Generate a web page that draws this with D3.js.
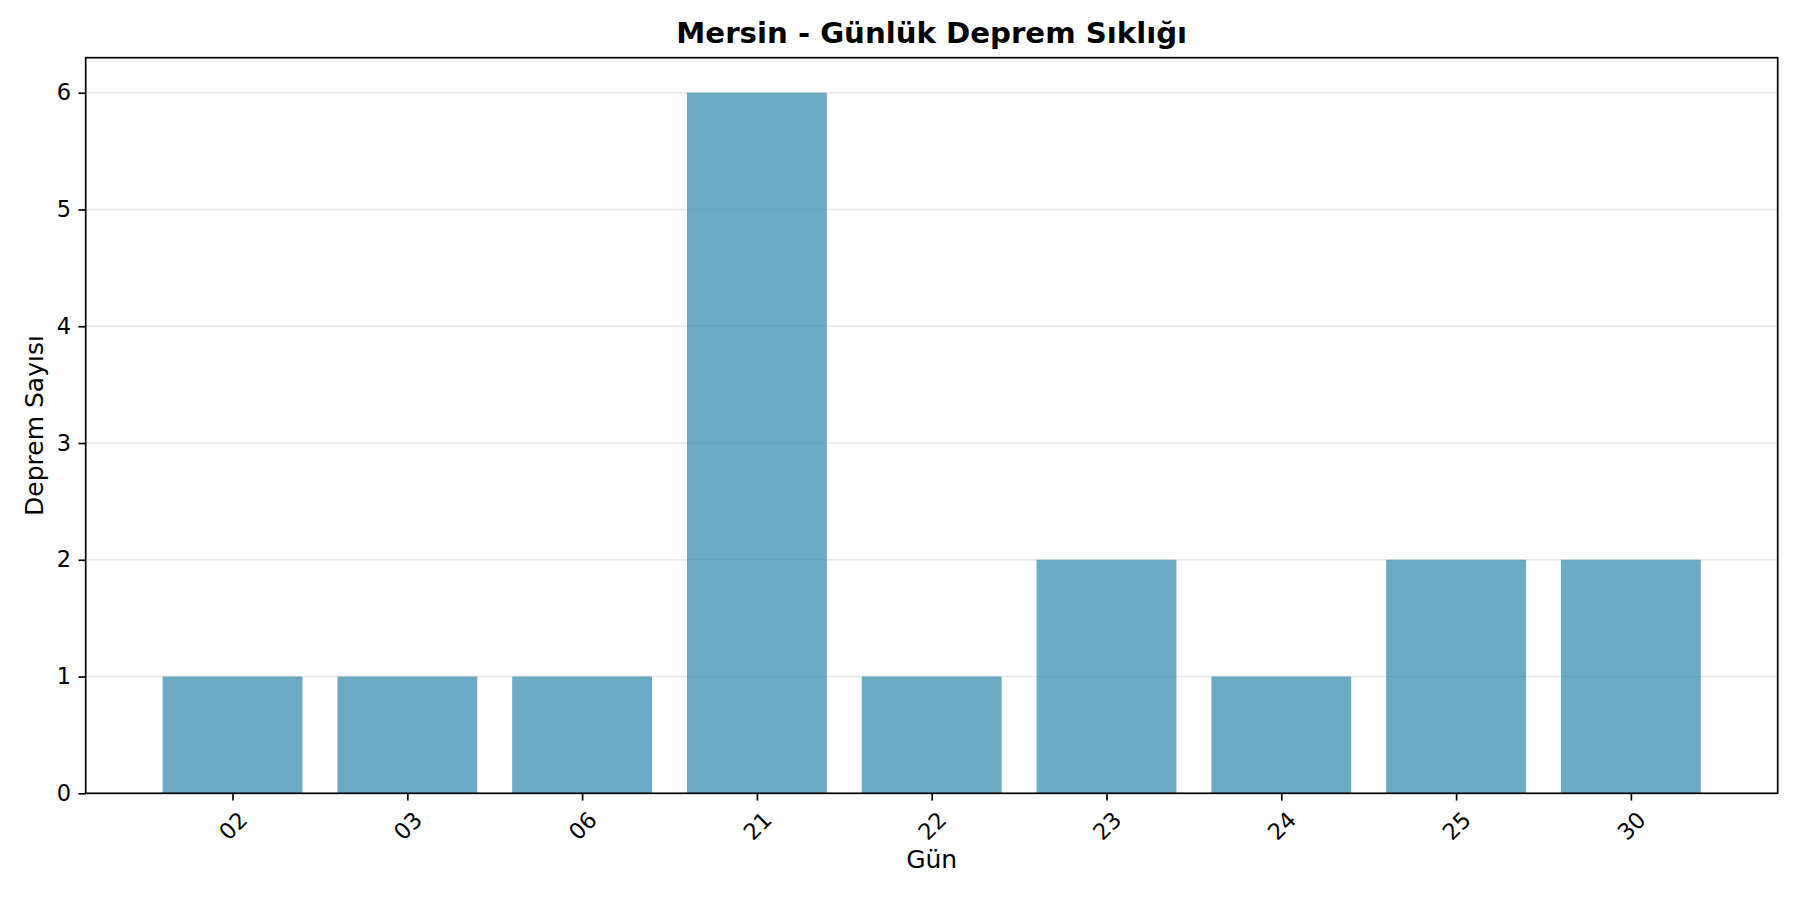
<!DOCTYPE html>
<html>
<head>
<meta charset="utf-8">
<script src="https://cdn.jsdelivr.net/npm/d3@7"></script>
<style>
  html, body { margin: 0; padding: 0; background: #fff; }
  svg text { font-family: "DejaVu Sans", sans-serif; fill: #000; }
</style>
</head>
<body>
<div id="chart"></div>
<script>
// data
const days = ["02", "03", "06", "21", "22", "23", "24", "25", "30"];
const counts = [1, 1, 1, 6, 1, 2, 1, 2, 2];
const yTicks = [0, 1, 2, 3, 4, 5, 6];

const W = 1800, H = 900;
const margin = { top: 57.7, right: 22.3, bottom: 106.7, left: 85.7 };
const width = W - margin.left - margin.right;
const height = H - margin.top - margin.bottom;

const svg = d3.select("#chart").append("svg")
    .attr("width", W)
    .attr("height", H);

const g = svg.append("g")
    .attr("transform", "translate(" + margin.left + "," + margin.top + ")");

// matplotlib style: bar width 0.8, 5% margins
const x = d3.scaleLinear().domain([-0.84, days.length - 1 + 0.84]).range([0, width]);
const y = d3.scaleLinear().domain([0, 6.3]).range([height, 0]);

// grid under the bars
g.append("g")
    .selectAll("line")
    .data(yTicks)
    .enter().append("line")
    .attr("x1", 0).attr("x2", width)
    .attr("y1", d => y(d)).attr("y2", d => y(d))
    .attr("stroke", "#b0b0b0")
    .attr("stroke-opacity", 0.3)
    .attr("stroke-width", 1.67);

// bars
g.append("g")
    .selectAll("rect")
    .data(counts)
    .enter().append("rect")
    .attr("x", (d, i) => x(i - 0.4))
    .attr("width", x(0.8) - x(0))
    .attr("y", d => y(d))
    .attr("height", d => y(0) - y(d))
    .attr("fill", "#2E86AB")
    .attr("fill-opacity", 0.7);

// y axis
const yAxis = g.append("g")
    .call(d3.axisLeft(y).tickValues(yTicks).tickSize(7.3).tickPadding(7.3).tickFormat(d3.format("d")));
yAxis.select(".domain").remove();
yAxis.selectAll("line").attr("stroke", "#000").attr("stroke-width", 1.67);
yAxis.selectAll("text")
    .attr("font-size", "22.5px")
    .attr("font-family", "DejaVu Sans");

// x axis
const xAxis = g.append("g")
    .attr("transform", "translate(0," + height + ")")
    .call(d3.axisBottom(x).tickValues(d3.range(days.length)).tickSize(7.3).tickFormat(i => days[i]));
xAxis.select(".domain").remove();
xAxis.selectAll("line").attr("stroke", "#000").attr("stroke-width", 1.67);
xAxis.selectAll("text")
    .attr("font-size", "22.5px")
    .attr("font-family", "DejaVu Sans")
    .attr("y", 0)
    .attr("dy", null)
    .attr("text-anchor", "middle")
    .attr("dominant-baseline", "central")
    .attr("transform", "translate(0,32.5) rotate(-45)");

// frame
g.append("rect")
    .attr("width", width)
    .attr("height", height)
    .attr("fill", "none")
    .attr("stroke", "#000")
    .attr("stroke-width", 1.67);

// title and labels
svg.append("text")
    .attr("x", margin.left + width / 2)
    .attr("y", 43.3)
    .attr("text-anchor", "middle")
    .attr("font-size", "29.2px")
    .attr("font-weight", "bold")
    .text("Mersin - Günlük Deprem Sıklığı");

svg.append("text")
    .attr("x", margin.left + width / 2)
    .attr("y", 868)
    .attr("text-anchor", "middle")
    .attr("font-size", "25px")
    .text("Gün");

svg.append("text")
    .attr("transform", "translate(43.3," + (margin.top + height / 2) + ") rotate(-90)")
    .attr("text-anchor", "middle")
    .attr("font-size", "25px")
    .text("Deprem Sayısı");
</script>
</body>
</html>
